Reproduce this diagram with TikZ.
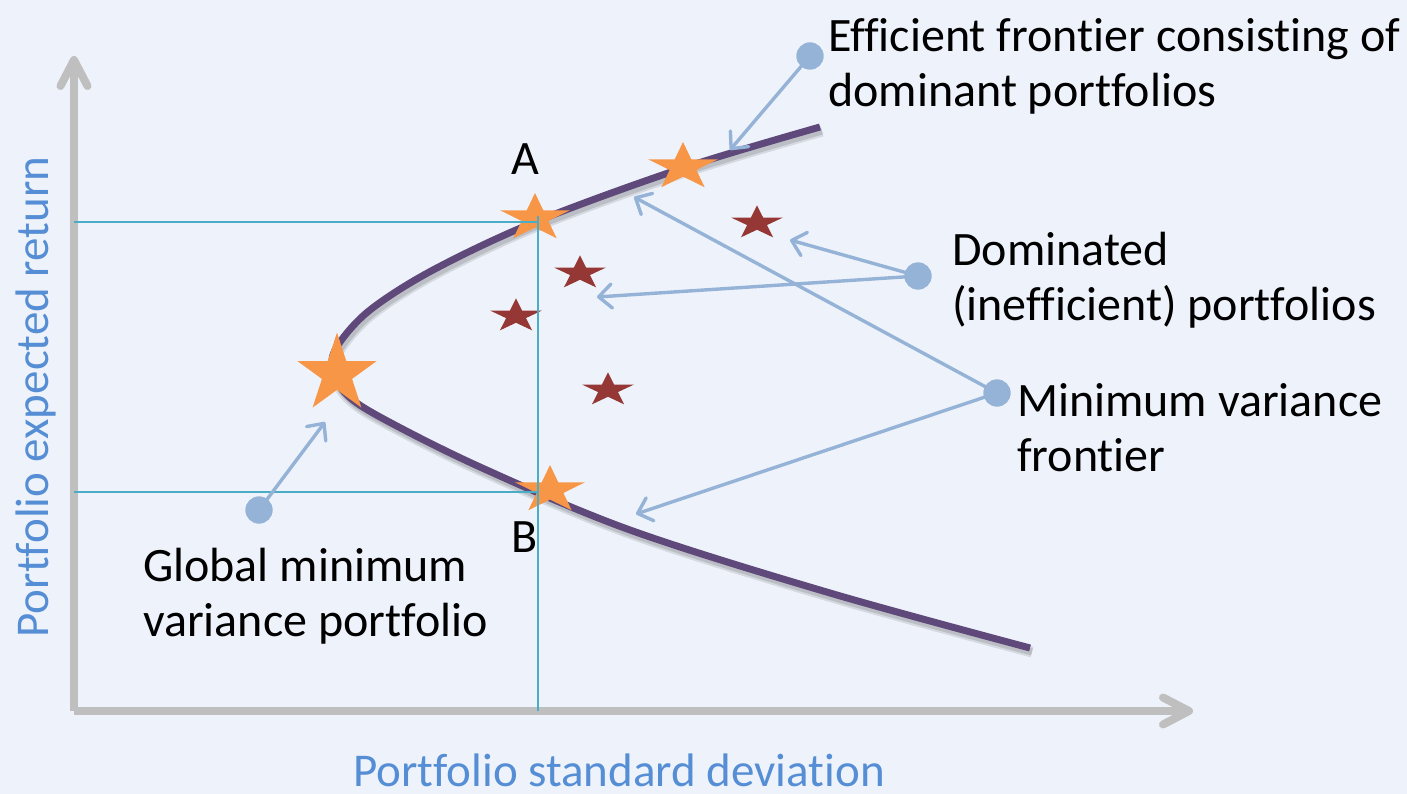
\documentclass[tikz,border=0pt]{standalone}
\usepackage{fontspec}
\setmainfont{Carlito}[Ligatures=NoCommon]
\usetikzlibrary{arrows.meta}
\definecolor{bg}{HTML}{EEF2FA}
\definecolor{axisgray}{HTML}{BFBFBF}
\definecolor{guide}{HTML}{4BACC6}
\definecolor{frontier}{HTML}{5F497A}
\definecolor{goodstar}{HTML}{F79646}
\definecolor{badstar}{HTML}{953735}
\definecolor{pointer}{HTML}{95B3D7}
\definecolor{axislabel}{HTML}{558ED5}

\tikzset{
  % five-pointed star with separate horizontal / vertical outer radii
  pics/pstar/.style n args={3}{code={
    \pgfmathsetmacro\ox{#1}\pgfmathsetmacro\oy{#2}
    \pgfmathsetmacro\ix{0.382*#1}\pgfmathsetmacro\iy{0.382*#2}
    \fill[#3] (90:\ox pt and \oy pt) -- (126:\ix pt and \iy pt)
      -- (162:\ox pt and \oy pt) -- (198:\ix pt and \iy pt)
      -- (234:\ox pt and \oy pt) -- (270:\ix pt and \iy pt)
      -- (306:\ox pt and \oy pt) -- (342:\ix pt and \iy pt)
      -- (18:\ox pt and \oy pt) -- (54:\ix pt and \iy pt) -- cycle;
  }},
  axisline/.style={draw=axisgray, line width=8pt,
    -{Straight Barb[round, length=26pt, width=27pt]}},
  guideline/.style={draw=guide, line width=2.2pt},
  curveline/.style={draw=frontier, line width=7pt},
  callout/.style={draw=pointer, line width=3.4pt,
    -{Straight Barb[round, length=13pt, width=24pt]}},
  dotnode/.style={circle, fill=pointer, minimum size=27pt, inner sep=0pt},
  % multi-line labels are anchored at the baseline of their last line
  lbl/.style={font=\fontsize{48}{55}\selectfont, inner sep=0pt,
    anchor=base west, align=left},
  axlbl/.style={font=\fontsize{47}{55}\selectfont, inner sep=0pt,
    text=axislabel},
}

\begin{document}
\begin{tikzpicture}[x=1pt, y=-1pt, line join=round]
\fill[bg] (0,0) rectangle (1407,794);
\useasboundingbox (0,0) rectangle (1407,794);

% axes
\coordinate (O) at (74,711);
\coordinate (yTip) at (74,56);
\coordinate (xTip) at (1193,711);
\draw[axisline] (O) -- (yTip);
\draw[axisline] (O) -- (xTip);

% mean-variance frontier (with a soft shadow)
\def\frontierpts{(820,127) (683,168) (535,222) (433,270) (370,310) (338,345)
  (332,368) (345,393) (380,417) (480,467) (630,530) (830,593) (1030,648)}
\begin{scope}[shift={(2,4)}]
  \draw[black, opacity=0.10, line width=11pt] plot[smooth, tension=0.55] coordinates {\frontierpts};
  \draw[black, opacity=0.12, line width=7pt] plot[smooth, tension=0.55] coordinates {\frontierpts};
\end{scope}
\draw[curveline] plot[smooth, tension=0.55] coordinates {\frontierpts};

% portfolios on the frontier
\pic at (337,374) {pstar={41.5}{41.5}{goodstar}};
\pic at (535,218) {pstar={36.8}{25}{goodstar}};
\pic at (683,167) {pstar={36.8}{25}{goodstar}};
\pic at (550,490) {pstar={36.8}{25}{goodstar}};

% dominated portfolios
\pic at (580,273) {pstar={27.3}{17.7}{badstar}};
\pic at (516,316) {pstar={27.3}{17.7}{badstar}};
\pic at (608,390) {pstar={27.3}{17.7}{badstar}};
\pic at (757,223) {pstar={27.3}{17.7}{badstar}};

% guide lines for portfolios A and B
\coordinate (gA0) at (74,222);
\coordinate (gA1) at (537,222);
\coordinate (gB0) at (74,492);
\coordinate (gB1) at (538,492);
\coordinate (gV0) at (538,216);
\coordinate (gV1) at (538,711);
\draw[guideline] (gA0) -- (gA1);
\draw[guideline] (gB0) -- (gB1);
\draw[guideline] (gV0) -- (gV1);

% callouts
\node[dotnode] (dEff) at (810,56) {};
\node[dotnode] (dDom) at (918,276) {};
\node[dotnode] (dMin) at (997,393) {};
\node[dotnode] (dGlob) at (259,510) {};
\coordinate (tEff) at (730,150);
\coordinate (tDom1) at (790,240);
\coordinate (tDom2) at (597,297);
\coordinate (tMin1) at (634,197);
\coordinate (tMin2) at (636,514);
\coordinate (tGlob) at (325,422);
\draw[callout] (dEff.center) -- (tEff);
\draw[callout] (dDom.center) -- (tDom1);
\draw[callout] (dDom.center) -- (tDom2);
\draw[callout] (dMin.center) -- (tMin1);
\draw[callout] (dMin.center) -- (tMin2);
\draw[callout] (dGlob.center) -- (tGlob);
\node[dotnode] at (dEff) {};
\node[dotnode] at (dDom) {};
\node[dotnode] at (dMin) {};
\node[dotnode] at (dGlob) {};

% labels
\node[lbl] (labA) at (511,175) {A};
\node[lbl] (labB) at (511,552) {B};
\node[lbl] (labEff) at (828,107) {Efficient frontier consisting of\\dominant portfolios};
\node[lbl] (labDom) at (952,320) {Dominated\\(inefficient) portfolios};
\node[lbl] (labMin) at (1017,471) {Minimum variance\\frontier};
\node[lbl] (labGlob) at (143,636) {Global minimum\\variance portfolio};
\node[axlbl, anchor=base] (labX) at (619,786) {Portfolio standard deviation};
\node[axlbl, anchor=base, rotate=90] (labY) at (48,397) {Portfolio expected return};
\end{tikzpicture}
\end{document}
